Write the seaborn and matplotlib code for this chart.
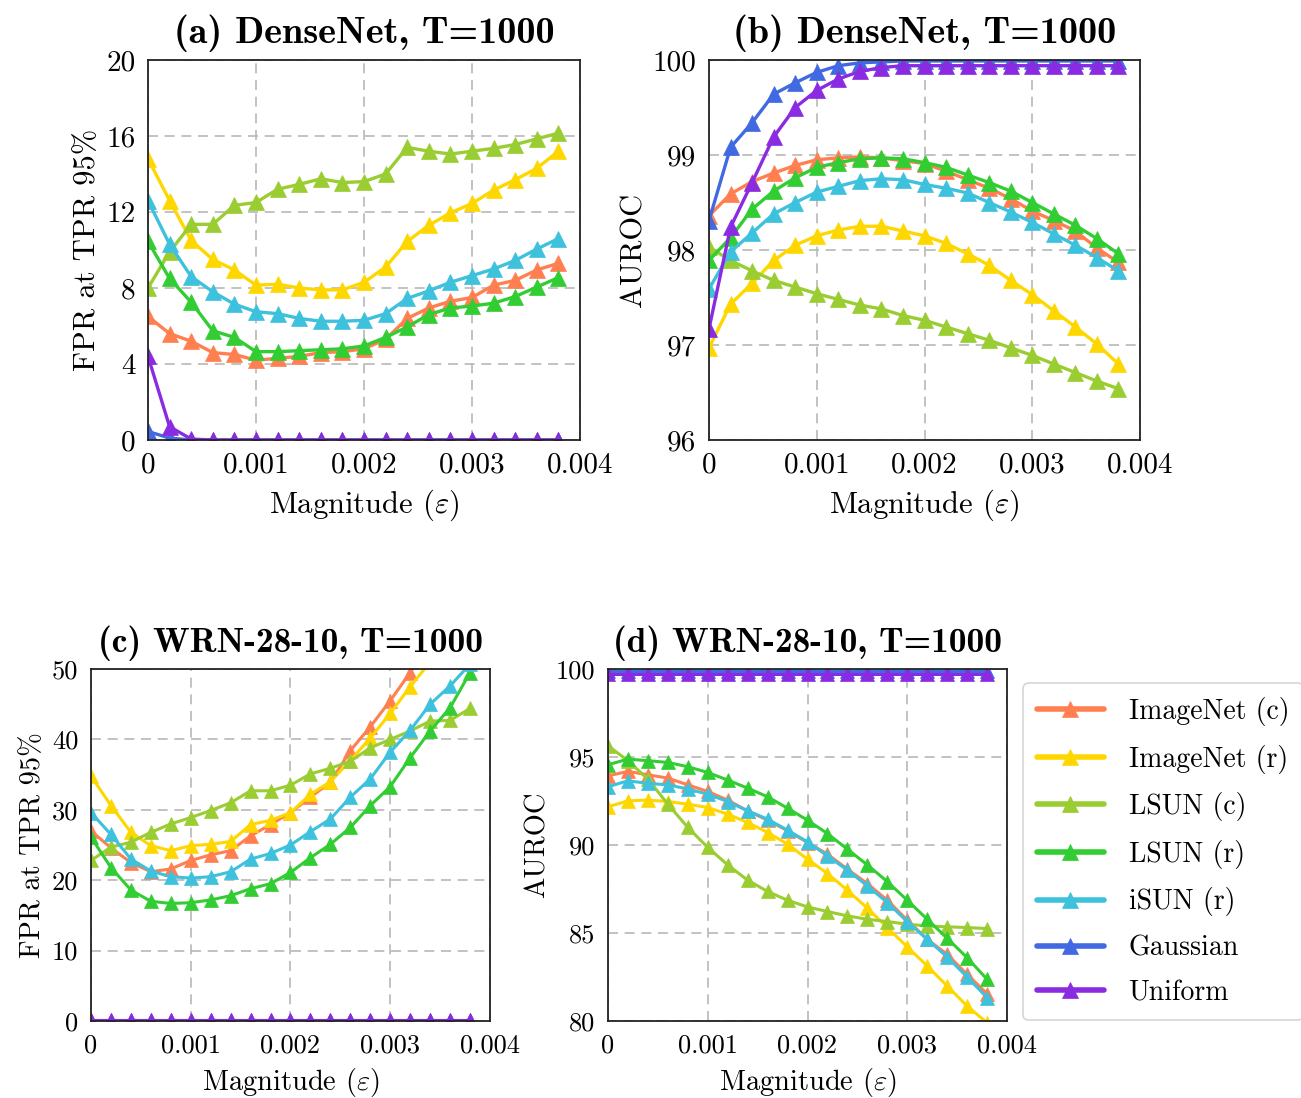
import matplotlib
matplotlib.use("Agg")
import matplotlib.pyplot as plt
import seaborn as sns
import pandas as pd

# ---------------- data ----------------
magnitudes = [0.0, 0.0002, 0.0004, 0.0006, 0.0008, 0.0010, 0.0012, 0.0014, 0.0016, 0.0018,
              0.0020, 0.0022, 0.0024, 0.0026, 0.0028, 0.0030, 0.0032, 0.0034, 0.0036, 0.0038]

series_names = ["ImageNet (c)", "ImageNet (r)", "LSUN (c)", "LSUN (r)", "iSUN (r)", "Gaussian", "Uniform"]
series_colors = ["#FF7F50", "#FFD700", "#9ACD32", "#32CD32", "#3EC1DD", "#4169E1", "#8A2BE2"]

# (a) DenseNet FPR at TPR 95%
a_imagenet_c = [6.5, 5.6, 5.2, 4.6, 4.5, 4.2, 4.3, 4.4, 4.6, 4.65, 4.8, 5.3, 6.4, 6.95, 7.3, 7.5, 8.15, 8.4, 8.95, 9.3]
a_imagenet_r = [14.8, 12.6, 10.5, 9.5, 8.95, 8.15, 8.2, 8.0, 7.9, 7.9, 8.3, 9.1, 10.45, 11.3, 11.95, 12.45, 13.15, 13.7, 14.3, 15.2]
a_lsun_c = [8.0, 9.9, 11.35, 11.35, 12.35, 12.5, 13.2, 13.45, 13.75, 13.55, 13.6, 14.0, 15.4, 15.2, 15.05, 15.2, 15.35, 15.55, 15.85, 16.15]
a_lsun_r = [10.45, 8.5, 7.25, 5.75, 5.4, 4.65, 4.65, 4.7, 4.75, 4.8, 4.95, 5.4, 5.95, 6.6, 6.95, 7.05, 7.2, 7.55, 8.05, 8.55]
a_isun_r = [12.6, 10.3, 8.6, 7.8, 7.15, 6.75, 6.65, 6.4, 6.25, 6.25, 6.3, 6.65, 7.45, 7.85, 8.3, 8.65, 9.0, 9.45, 10.05, 10.6]
a_gaussian = [0.45, 0.1, 0.0, 0.0, 0.0, 0.0, 0.0, 0.0, 0.0, 0.0, 0.0, 0.0, 0.0, 0.0, 0.0, 0.0, 0.0, 0.0, 0.0, 0.0]
a_uniform = [4.4, 0.7, 0.05, 0.0, 0.0, 0.0, 0.0, 0.0, 0.0, 0.0, 0.0, 0.0, 0.0, 0.0, 0.0, 0.0, 0.0, 0.0, 0.0, 0.0]

# (b) DenseNet AUROC
b_imagenet_c = [98.36, 98.59, 98.72, 98.81, 98.89, 98.95, 98.97, 98.98, 98.97, 98.94, 98.91, 98.83, 98.74, 98.65, 98.54, 98.41, 98.31, 98.2, 98.02, 97.87]
b_imagenet_r = [96.97, 97.43, 97.65, 97.89, 98.05, 98.15, 98.21, 98.25, 98.25, 98.2, 98.15, 98.07, 97.96, 97.84, 97.68, 97.53, 97.36, 97.19, 97.01, 96.8]
b_lsun_c = [98.03, 97.89, 97.78, 97.68, 97.61, 97.54, 97.48, 97.42, 97.38, 97.31, 97.26, 97.19, 97.12, 97.05, 96.97, 96.89, 96.8, 96.71, 96.62, 96.54]
b_lsun_r = [97.89, 98.13, 98.43, 98.62, 98.76, 98.87, 98.92, 98.96, 98.97, 98.96, 98.92, 98.87, 98.79, 98.71, 98.62, 98.5, 98.38, 98.26, 98.12, 97.96]
b_isun_r = [97.59, 97.98, 98.18, 98.38, 98.5, 98.61, 98.67, 98.73, 98.75, 98.74, 98.69, 98.65, 98.6, 98.5, 98.4, 98.29, 98.17, 98.05, 97.92, 97.78]
b_gaussian = [98.31, 99.08, 99.34, 99.64, 99.76, 99.87, 99.94, 99.97, 99.98, 99.99, 99.99, 99.99, 99.99, 99.99, 99.99, 99.99, 99.99, 99.99, 99.99, 99.99]
b_uniform = [97.17, 98.24, 98.71, 99.19, 99.5, 99.68, 99.8, 99.88, 99.92, 99.94, 99.94, 99.94, 99.94, 99.94, 99.94, 99.94, 99.94, 99.94, 99.94, 99.94]

# (c) WRN-28-10 FPR at TPR 95%
c_imagenet_c = [27.0, 24.6, 22.5, 21.2, 21.6, 22.8, 23.6, 24.2, 26.3, 27.9, 29.6, 31.8, 33.9, 38.4, 41.8, 45.5, 49.5, 54.0, 58.5, 63.0]
c_imagenet_r = [34.8, 30.6, 26.8, 24.9, 24.2, 24.9, 25.1, 25.5, 27.9, 28.5, 29.6, 32.2, 34.0, 37.0, 40.2, 43.7, 47.5, 51.0, 55.0, 59.0]
c_lsun_c = [22.8, 24.7, 25.4, 26.8, 28.0, 28.9, 29.9, 31.0, 32.7, 32.7, 33.5, 35.1, 35.9, 36.9, 38.8, 40.0, 41.2, 42.6, 42.7, 44.4]
c_lsun_r = [26.1, 21.8, 18.6, 17.0, 16.7, 16.8, 17.2, 17.8, 18.8, 19.5, 21.1, 23.2, 25.1, 27.5, 30.6, 33.3, 37.4, 41.2, 44.5, 49.5]
c_isun_r = [29.6, 26.5, 23.0, 21.3, 20.5, 20.3, 20.5, 21.2, 23.0, 23.8, 25.0, 26.9, 28.7, 31.8, 34.4, 38.2, 41.3, 45.0, 47.6, 50.7]
c_gaussian = [0.1, 0.1, 0.1, 0.1, 0.1, 0.1, 0.1, 0.1, 0.1, 0.1, 0.1, 0.1, 0.1, 0.1, 0.1, 0.1, 0.1, 0.1, 0.1, 0.1]
c_uniform = [0.1, 0.1, 0.1, 0.1, 0.1, 0.1, 0.1, 0.1, 0.1, 0.1, 0.1, 0.1, 0.1, 0.1, 0.1, 0.1, 0.1, 0.1, 0.1, 0.1]

# (d) WRN-28-10 AUROC
d_imagenet_c = [93.93, 94.18, 93.99, 93.8, 93.42, 93.04, 92.55, 91.94, 91.41, 90.81, 90.14, 89.48, 88.63, 87.81, 86.86, 85.73, 84.64, 83.79, 82.65, 81.55]
d_imagenet_r = [92.17, 92.51, 92.55, 92.47, 92.32, 92.13, 91.75, 91.28, 90.71, 90.05, 89.19, 88.38, 87.43, 86.41, 85.31, 84.21, 83.13, 81.99, 80.85, 79.9]
d_lsun_c = [95.64, 94.79, 93.74, 92.32, 91.0, 89.86, 88.87, 88.0, 87.36, 86.86, 86.48, 86.22, 85.97, 85.78, 85.65, 85.5, 85.4, 85.35, 85.31, 85.25]
d_lsun_r = [94.56, 94.88, 94.79, 94.69, 94.45, 94.12, 93.69, 93.23, 92.74, 92.09, 91.41, 90.65, 89.76, 88.87, 87.92, 86.86, 85.78, 84.7, 83.6, 82.37]
d_isun_r = [93.31, 93.65, 93.5, 93.42, 93.18, 92.89, 92.47, 91.94, 91.47, 90.84, 90.18, 89.38, 88.57, 87.68, 86.73, 85.65, 84.64, 83.64, 82.5, 81.33]
d_gaussian = [99.9, 99.9, 99.9, 99.9, 99.9, 99.9, 99.9, 99.9, 99.9, 99.9, 99.9, 99.9, 99.9, 99.9, 99.9, 99.9, 99.9, 99.9, 99.9, 99.9]
d_uniform = [99.7, 99.7, 99.7, 99.7, 99.7, 99.7, 99.7, 99.7, 99.7, 99.7, 99.7, 99.7, 99.7, 99.7, 99.7, 99.7, 99.7, 99.7, 99.7, 99.7]

panel_titles = ["(a) DenseNet, T=1000", "(b) DenseNet, T=1000", "(c) WRN-28-10, T=1000", "(d) WRN-28-10, T=1000"]
panel_ylabels = ["FPR at TPR 95%", "AUROC", "FPR at TPR 95%", "AUROC"]
x_ticks = [0.0, 0.001, 0.002, 0.003, 0.004]
x_tick_labels = ["0", "0.001", "0.002", "0.003", "0.004"]
a_yticks = [0, 4, 8, 12, 16, 20]
b_yticks = [96, 97, 98, 99, 100]
c_yticks = [0, 10, 20, 30, 40, 50]
d_yticks = [80, 85, 90, 95, 100]

# ---------------- style ----------------
sns.set_style("white")
plt.rcParams["font.family"] = ["cmr10", "DejaVu Serif"]
plt.rcParams["mathtext.fontset"] = "cm"
plt.rcParams["axes.formatter.use_mathtext"] = True
plt.rcParams["axes.unicode_minus"] = False
plt.rcParams["text.color"] = "black"
plt.rcParams["axes.labelcolor"] = "black"
plt.rcParams["xtick.color"] = "black"
plt.rcParams["ytick.color"] = "black"

fig = plt.figure(figsize=(13.01, 10.98), dpi=100)

positions = [
    [148 / 1301, 1 - 440 / 1098, 432 / 1301, 380 / 1098],
    [709 / 1301, 1 - 440 / 1098, 431 / 1301, 380 / 1098],
    [91 / 1301, 1 - 1021 / 1098, 399 / 1301, 352 / 1098],
    [608 / 1301, 1 - 1021 / 1098, 399 / 1301, 352 / 1098],
]

panels = [
    [a_imagenet_c, a_imagenet_r, a_lsun_c, a_lsun_r, a_isun_r, a_gaussian, a_uniform],
    [b_imagenet_c, b_imagenet_r, b_lsun_c, b_lsun_r, b_isun_r, b_gaussian, b_uniform],
    [c_imagenet_c, c_imagenet_r, c_lsun_c, c_lsun_r, c_isun_r, c_gaussian, c_uniform],
    [d_imagenet_c, d_imagenet_r, d_lsun_c, d_lsun_r, d_isun_r, d_gaussian, d_uniform],
]
yticks_list = [a_yticks, b_yticks, c_yticks, d_yticks]

top_row = [True, True, False, False]

axes = []
for i in range(4):
    ax = fig.add_axes(positions[i])
    axes.append(ax)
    big = top_row[i]
    ms = 11 if big else 9.5
    lw = 2.4 if big else 2.2
    for name, color, vals in zip(series_names, series_colors, panels[i]):
        df = pd.DataFrame({"eps": magnitudes, "val": vals})
        sns.lineplot(data=df, x="eps", y="val", ax=ax, color=color, marker="^",
                     markersize=ms, markeredgecolor=color, markeredgewidth=0.5,
                     linewidth=lw, label=name, legend=False)
    yt = yticks_list[i]
    ax.set_ylim(yt[0], yt[-1])
    ax.set_xlim(0, 0.004)
    ax.set_yticks(yt)
    ax.set_yticklabels([str(v) for v in yt])
    ax.set_xticks(x_ticks)
    ax.set_xticklabels(x_tick_labels)
    tick_fs = 21 if big else 19
    lab_fs = 22 if big else 20.5
    ax.tick_params(axis="both", labelsize=tick_fs, direction="out", length=5, width=1.2,
                   colors="#222222", labelcolor="black", pad=4)
    ax.grid(True, linestyle=(0, (6, 4)), color="#b8b8b8", linewidth=1.2)
    for sp in ax.spines.values():
        sp.set_visible(True)
        sp.set_color("#222222")
        sp.set_linewidth(1.3)
    ax.set_xlabel(r"Magnitude ($\varepsilon$)", fontsize=lab_fs, labelpad=6)
    ax.set_ylabel(panel_ylabels[i], fontsize=lab_fs, labelpad=4)
    ax.set_title(panel_titles[i], fontsize=27.5 if big else 25.5, family=["cmb10", "DejaVu Serif"],
                 pad=12, color="black")

handles, labels = axes[3].get_legend_handles_labels()
leg = fig.legend(handles, labels, loc="upper left", bbox_to_anchor=(1023 / 1301, 1 - 683 / 1098),
                 fontsize=20, frameon=True, fancybox=True, handlelength=2.4, labelspacing=0.67,
                 borderpad=0.5, handletextpad=0.9, borderaxespad=0)
leg.get_frame().set_edgecolor("#cccccc")
leg.get_frame().set_linewidth(1.2)
for lh in leg.get_lines():
    lh.set_linewidth(4)
    lh.set_markersize(11)

fig.savefig("out.png", dpi=100)
